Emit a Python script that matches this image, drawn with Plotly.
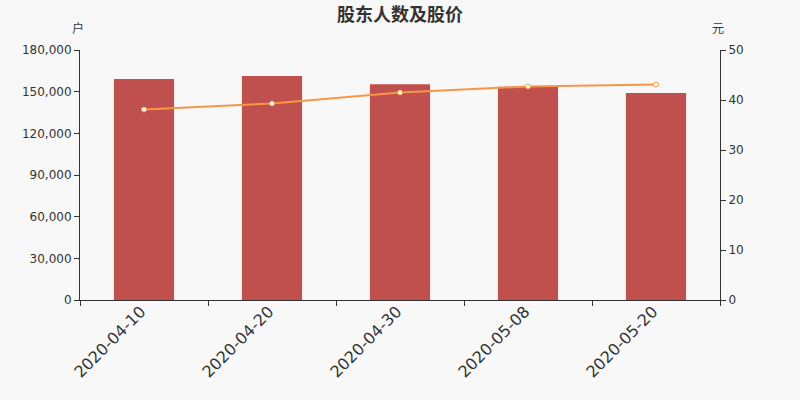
import plotly.graph_objects as go

dates = ["2020-04-10", "2020-04-20", "2020-04-30", "2020-05-08", "2020-05-20"]
holders = [159100, 161200, 155300, 153500, 149000]
prices = [38.1, 39.3, 41.5, 42.7, 43.1]

font_family = "DejaVu Sans, Noto Sans CJK SC, sans-serif"
unit_font = dict(size=12, family="Noto Sans CJK SC", color="#333333")

fig = go.Figure()
fig.add_trace(go.Bar(x=dates, y=holders, marker=dict(color="#c0504d", line=dict(width=0)),
                     width=0.47, name="股东人数", yaxis="y"))
fig.add_trace(go.Scatter(x=dates, y=prices, mode="lines+markers", yaxis="y2",
                         line=dict(color="#f79646", width=2),
                         marker=dict(size=5, color="white", line=dict(color="#f79646", width=1)),
                         name="股价"))

fig.update_layout(
    width=800, height=400,
    paper_bgcolor="#f8f8f8", plot_bgcolor="#f8f8f8",
    margin=dict(l=80, r=80, t=50, b=100, autoexpand=False),
    showlegend=False,
    font=dict(family=font_family, size=12, color="#333333"),
    title=dict(text="<b>股东人数及股价</b>", x=0.5, xanchor="center", xref="container",
               y=1 - 15 / 400, yref="container", yanchor="middle",
               font=dict(family="Noto Sans CJK SC", size=18, color="#333333")),
    xaxis=dict(type="category", tickangle=-45, tickfont=dict(size=16, color="#333333"),
               showline=True, linecolor="#333333", linewidth=1, automargin=False,
               ticks="outside", tickson="boundaries", ticklen=5, tickcolor="#333333",
               ticklabelstandoff=-5, ticklabelshift=-3,
               showgrid=False),
    yaxis=dict(range=[0, 180000], dtick=30000, tickformat=",d", showgrid=False, automargin=False,
               showline=True, linecolor="#333333", ticks="outside", ticklen=5,
               tickcolor="#333333", tickfont=dict(size=12, color="#333333"), zeroline=False),
    yaxis2=dict(range=[0, 50], dtick=10, overlaying="y", side="right", showgrid=False,
                automargin=False,
                showline=True, linecolor="#333333", ticks="outside", ticklen=5,
                tickcolor="#333333", tickfont=dict(size=12, color="#333333"), zeroline=False),
    annotations=[
        dict(text="户", x=0, y=1.088, xref="paper", yref="paper", showarrow=False,
             xanchor="center", yanchor="middle", xshift=-2, font=unit_font),
        dict(text="元", x=1, y=1.088, xref="paper", yref="paper", showarrow=False,
             xanchor="center", yanchor="middle", xshift=-2, font=unit_font),
    ],
)
fig.write_html("out.html", post_script="document.body.style.margin='0';",
               config={"displayModeBar": False})
